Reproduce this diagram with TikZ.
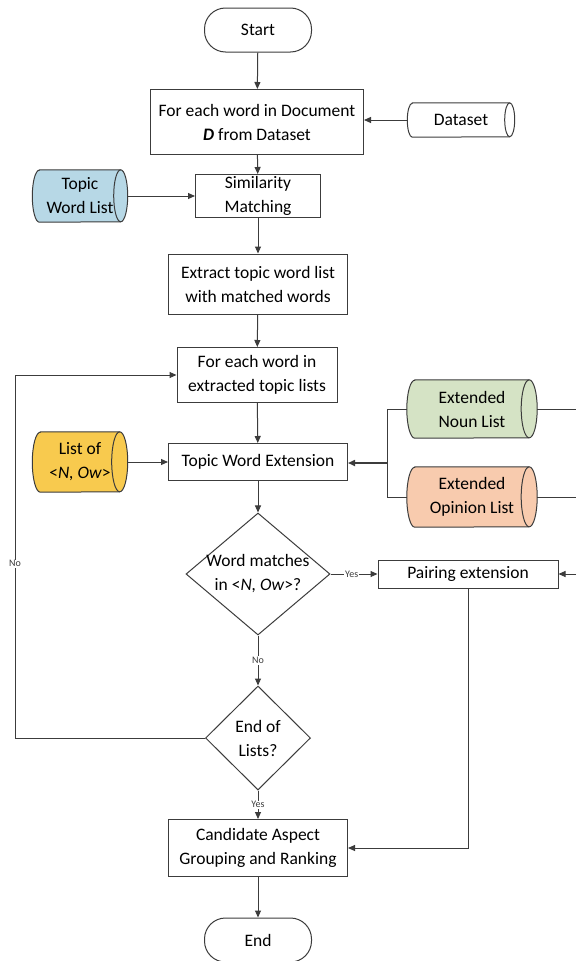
\documentclass[tikz,border=0pt]{standalone}
\usepackage{fontspec}
\setmainfont{Carlito}
\usetikzlibrary{shapes.geometric,arrows.meta,backgrounds}
\definecolor{ln}{HTML}{3C3C3C}
\definecolor{cblue}{HTML}{B7D8E6}
\definecolor{cyellow}{HTML}{F8CA4E}
\definecolor{cgreen}{HTML}{D5E3C5}
\definecolor{cpeach}{HTML}{F8CBAE}
\newcommand\cylbody[4]{%
 \filldraw[draw=ln, line width=1pt, fill=#2] ([xshift=#3]#1.north west) -- ([xshift=-#3]#1.north east)
   arc[start angle=90, end angle=-90, x radius=#3, y radius=#4] -- ([xshift=#3]#1.south west)
   arc[start angle=270, end angle=90, x radius=#3, y radius=#4] -- cycle;
 \draw[draw=ln, line width=1pt] ([xshift=-#3]#1.north east) arc[start angle=90, end angle=270, x radius=#3, y radius=#4];
}
\begin{document}
\begin{tikzpicture}[x=1pt,y=-1pt,
  txt/.style={align=center, inner sep=0pt, font=\fontsize{17.5}{24}\selectfont},
  box/.style={txt, draw=ln, line width=1pt, fill=white},
  term/.style={box, rounded corners=21pt, minimum width=107, minimum height=44},
  dia/.style={txt, draw=ln, line width=1pt, fill=white, diamond, inner sep=-14pt},
  cyl/.style={txt},
  arr/.style={draw=ln, line width=1pt, -{Triangle[length=7pt,width=6pt]}},
  con/.style={draw=ln, line width=1pt},
  lbl/.style={font=\fontsize{10}{11}\selectfont, fill=white, inner sep=1pt, text=ln}]
\useasboundingbox (0,0) rectangle (576,961);
\begin{scope}[on background layer]
\fill[white] (0,0) rectangle (576,961);
\end{scope}

\node[term] (start) at (258,30) {Start};
\node[box, minimum width=213, minimum height=65] (box2) at (257,122) {For each word in Document\\\textbf{\textit{D}} from Dataset};
\node[cyl, minimum width=107, minimum height=34] (dataset) at (461,120) {Dataset};
\node[box, minimum width=125, minimum height=43] (sim) at (258,196) {Similarity\\Matching};
\node[cyl, minimum width=95, minimum height=52] (topic) at (80,196) {Topic\\Word List};
\node[box, minimum width=179, minimum height=60] (extract) at (258,284) {Extract topic word list\\with matched words};
\node[box, minimum width=160, minimum height=55] (foreach) at (257,375) {For each word in\\extracted topic lists};
\node[box, minimum width=179, minimum height=37] (twe) at (258,462) {Topic Word Extension};
\node[cyl, minimum width=95, minimum height=60] (listof) at (80,462) {List of\\<\textit{N, Ow}>};
\node[cyl, minimum width=130, minimum height=58] (noun) at (472,409) {Extended\\Noun List};
\node[cyl, minimum width=130, minimum height=60] (opinion) at (472,497) {Extended\\Opinion List};
\node[dia, minimum width=144, minimum height=122] (d1) at (258,574) {Word matches\\in <\textit{N, Ow}>?};
\node[box, minimum width=180, minimum height=28] (pair) at (468,574) {Pairing extension};
\node[dia, minimum width=105, minimum height=104] (d2) at (258,738) {End of\\Lists?};
\node[box, minimum width=179, minimum height=57] (cand) at (258,848) {Candidate Aspect\\Grouping and Ranking};
\node[term] (end) at (258,940) {End};

\begin{scope}[on background layer]
\cylbody{dataset}{white}{5pt}{17pt}
\cylbody{topic}{cblue}{7pt}{26pt}
\cylbody{listof}{cyellow}{8pt}{30pt}
\cylbody{noun}{cgreen}{8pt}{29pt}
\cylbody{opinion}{cpeach}{8pt}{30pt}
\end{scope}

\coordinate (br) at (387,463);
\coordinate (nr) at (576,409);
\coordinate (orr) at (576,497);
\coordinate (pr) at (576,574);
\coordinate (lx) at (15,375);

\draw[arr] (start) -- (box2);
\draw[arr] (dataset.west) -- (dataset.west -| box2.east);
\draw[arr] (box2) -- (sim);
\draw[arr] (topic.east) -- (topic.east -| sim.west);
\draw[arr] (sim) -- (extract);
\draw[arr] (extract) -- (foreach);
\draw[arr] (foreach) -- (twe);
\draw[arr] (listof.east) -- (listof.east -| twe.west);
\draw[con] (noun.west) -- (noun.west -| br) -- (opinion.west -| br) -- (opinion.west);
\draw[arr, line width=1.6pt] (br) -- (br -| twe.east);
\draw[con] (noun.east) -- (nr);
\draw[con] (opinion.east) -- (orr);
\draw[arr] (pr) -- (pair.east);
\draw[arr] (twe) -- (d1);
\draw[arr] (d1.east) -- node[lbl, pos=0.45] {Yes} (pair.west);
\draw[arr] (d1.south) -- node[lbl] {No} (d2.north);
\draw[arr] (d2.south) -- node[lbl] {Yes} (cand.north);
\draw[arr] (pair.south) |- (cand.east);
\draw[arr] (d2.west) -| node[lbl, pos=0.74] {No} (lx) -- (foreach.west);
\draw[arr] (cand) -- (end);
\end{tikzpicture}
\end{document}
